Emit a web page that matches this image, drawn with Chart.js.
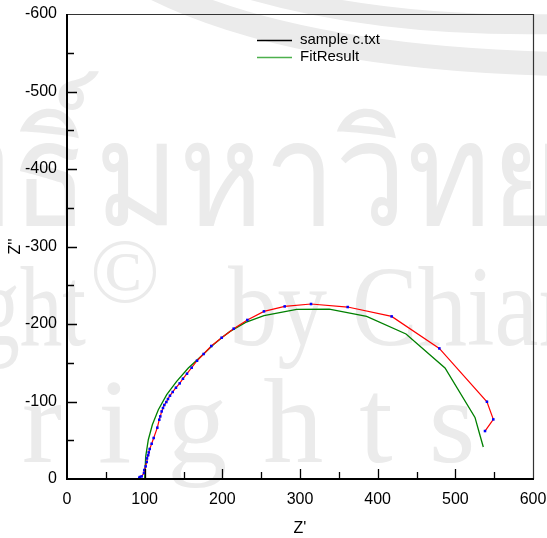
<!DOCTYPE html>
<html>
<head>
<meta charset="utf-8">
<script src="https://cdn.jsdelivr.net/npm/chart.js@4.4.1/dist/chart.umd.min.js"></script>
<style>
  html, body { margin: 0; padding: 0; background: #fff; }
  #wrap { width: 547px; height: 538px; }
</style>
</head>
<body>
<div id="wrap"><canvas id="nyquist"></canvas></div>
<script>
// measured impedance (Z', Z'')
const sampleRe = [93.1, 94.0, 96.1, 99.1, 99.5, 101.3, 102.6, 103.0, 104.3, 105.2, 106.5, 109.0, 111.6,
  116.3, 118.8, 120.1, 121.9, 123.6, 125.3, 127.9, 130.0, 132.6, 136.1, 140.3, 145.1, 149.3, 154.5,
  160.5, 167.4, 175.9, 185.8, 199.1, 214.6, 232.2, 253.6, 280.3, 314.2, 361.4, 418.0, 479.4, 540.7,
  548.9, 538.2];
const sampleIm = [-1.7, -2.6, -3.4, -7.7, -11.6, -16.3, -21.9, -26.6, -30.5, -34.3, -38.7, -45.5, -52.9,
  -66.2, -76.5, -80.8, -87.2, -91.6, -95.5, -99.3, -103.2, -107.5, -112.3, -117.8, -123.4, -129.4, -135.9,
  -143.6, -152.6, -161.3, -171.6, -182.3, -194.0, -205.2, -216.3, -222.7, -225.8, -221.9, -209.8, -168.5,
  -99.7, -76.9, -61.9];

// equivalent circuit fit
const fitRe = [100.0, 101.3, 104.7, 109.9, 117.6, 128.4, 141.2, 156.2, 173.4, 188.4, 201.2, 210.0,
  230.0, 253.6, 295.7, 337.7, 385.8, 436.5, 486.7, 525.3, 530.9, 536.0];
const fitIm = [0, -29.0, -50.7, -70.0, -89.4, -108.8, -125.9, -143.2, -159.1, -173.3, -184.0, -190.5,
  -202.0, -210.7, -218.8, -219.3, -209.8, -187.1, -143.2, -79.5, -59.4, -41.3];

const seriesNames = ["sample c.txt", "FitResult"];
const legendColors = ["#000000", "#4cb04c"];

const FONT = "'Liberation Sans', Arial, sans-serif";

const toPoints = (xs, ys) => xs.map((x, i) => ({ x: x, y: ys[i] }));

// faint background watermark
const watermark = {
  id: "watermark",
  beforeDraw(chart) {
    const ctx = chart.ctx;
    ctx.save();
    ctx.fillStyle = "#fff";
    ctx.fillRect(0, 0, chart.width, chart.height);
    ctx.fillStyle = "#ebebeb";
    ctx.strokeStyle = "#ebebeb";

    ctx.lineWidth = 20;
    ctx.beginPath();
    ctx.moveTo(245, -12);
    ctx.quadraticCurveTo(380, 28, 560, 24);
    ctx.stroke();
    ctx.lineWidth = 24;
    ctx.beginPath();
    ctx.moveTo(150, -14);
    ctx.quadraticCurveTo(290, 58, 560, 64);
    ctx.stroke();

    ctx.textBaseline = "alphabetic";

    // Thai line, slightly condensed
    ctx.save();
    ctx.translate(95, 225);
    ctx.scale(0.88, 1);
    ctx.font = "145px 'Noto Sans', 'DejaVu Sans', sans-serif";
    ctx.textAlign = "right";
    ctx.fillText("ลิขสิทธิ์", -6, 0);
    ctx.textAlign = "left";
    ctx.fillText("มหาวิทยาลัยเชียงใหม่", 0, 0);
    ctx.restore();

    // copyright line, condensed serif
    ctx.font = "115px 'Liberation Serif', serif";
    ctx.save();
    ctx.translate(86, 345);
    ctx.scale(0.74, 1);
    ctx.textAlign = "right";
    ctx.fillText("Copyright", 0, 0);
    ctx.restore();
    ctx.save();
    ctx.translate(228, 345);
    ctx.scale(0.86, 1);
    ctx.textAlign = "left";
    ctx.fillText("by Chiang Mai University", 0, 0);
    ctx.restore();
    ctx.font = "92px 'Liberation Serif', serif";
    ctx.textAlign = "center";
    ctx.fillText("\u00A9", 125, 302);

    ctx.font = "120px 'Liberation Serif', serif";
    ctx.textAlign = "left";
    ctx.letterSpacing = "36px";
    const lead = ctx.measureText("All ").width;
    ctx.fillText("All rights reserved", 22 - lead, 462);
    ctx.restore();
  }
};

// frame, inward ticks and legend
const frame = {
  id: "frame",
  afterDraw(chart) {
    const ctx = chart.ctx;
    const { left, right, top, bottom } = chart.chartArea;
    const xs = chart.scales.x, ys = chart.scales.y;
    ctx.save();
    ctx.strokeStyle = "#333";
    ctx.lineWidth = 1.2;
    ctx.beginPath();
    ctx.moveTo(left, top + 0.5);
    ctx.lineTo(right + 0.5, top + 0.5);
    ctx.lineTo(right + 0.5, bottom);
    ctx.stroke();

    ctx.strokeStyle = "#000";
    ctx.lineWidth = 1.3;
    ctx.beginPath();
    for (let v = 50; v < 600; v += 50) {
      const px = Math.round(xs.getPixelForValue(v)) + 0.5;
      const len = v % 100 === 0 ? 10 : 7;
      ctx.moveTo(px, bottom);
      ctx.lineTo(px, bottom - len);
    }
    for (let v = -550; v < 0; v += 50) {
      const py = Math.round(ys.getPixelForValue(v)) + 0.5;
      const len = v % 100 === 0 ? 10 : 7;
      ctx.moveTo(left, py);
      ctx.lineTo(left + len, py);
    }
    ctx.stroke();

    ctx.lineWidth = 2;
    ctx.beginPath();
    ctx.moveTo(left, top);
    ctx.lineTo(left, bottom);
    ctx.lineTo(right + 1, bottom);
    ctx.stroke();

    // legend
    ctx.font = "15px " + FONT;
    ctx.textBaseline = "middle";
    ctx.textAlign = "left";
    seriesNames.forEach((name, i) => {
      const y = 40 + i * 17;
      ctx.strokeStyle = legendColors[i];
      ctx.lineWidth = 1.5;
      ctx.beginPath();
      ctx.moveTo(257, y + 0.5);
      ctx.lineTo(292, y + 0.5);
      ctx.stroke();
      ctx.fillStyle = "#000";
      ctx.fillText(name, 300, y);
    });
    ctx.restore();
  }
};

new Chart(document.getElementById("nyquist"), {
  type: "scatter",
  data: {
    datasets: [
      {
        label: seriesNames[0],
        data: toPoints(sampleRe, sampleIm),
        showLine: true,
        borderColor: "#ff0000",
        borderWidth: 1.2,
        pointStyle: "rect",
        pointRadius: 1.8,
        pointBackgroundColor: "#0000ff",
        pointBorderWidth: 0,
        tension: 0,
        order: 1
      },
      {
        label: seriesNames[1],
        data: toPoints(fitRe, fitIm),
        showLine: true,
        borderColor: "#008000",
        borderWidth: 1.3,
        pointRadius: 0,
        tension: 0,
        order: 2
      }
    ]
  },
  plugins: [watermark, frame],
  options: {
    responsive: true,
    maintainAspectRatio: false,
    animation: false,
    layout: { padding: { left: 0, right: 14, top: 14, bottom: 0 } },
    plugins: {
      legend: { display: false },
      tooltip: { enabled: false }
    },
    scales: {
      x: {
        type: "linear",
        min: 0,
        max: 600,
        grid: { display: false, drawTicks: false },
        border: { display: false },
        ticks: { stepSize: 100, padding: 11, color: "#000", font: { family: FONT, size: 16 }, maxRotation: 0 },
        title: { display: true, text: "Z'", color: "#000", font: { family: FONT, size: 16 }, padding: 0 },
        afterFit(scale) {
          scale.height = 59;
          scale.paddingLeft = 0;
          scale.paddingRight = 0;
        }
      },
      y: {
        type: "linear",
        min: -600,
        max: 0,
        reverse: true,
        grid: { display: false, drawTicks: false },
        border: { display: false },
        ticks: { stepSize: 100, padding: 10, color: "#000", font: { family: FONT, size: 16 } },
        title: { display: true, text: "Z''", color: "#000", font: { family: FONT, size: 16 }, padding: { top: 6, bottom: 0 } },
        afterFit(scale) {
          scale.width = 67;
          scale.paddingTop = 0;
          scale.paddingBottom = 0;
        }
      }
    }
  }
});
</script>
</body>
</html>
